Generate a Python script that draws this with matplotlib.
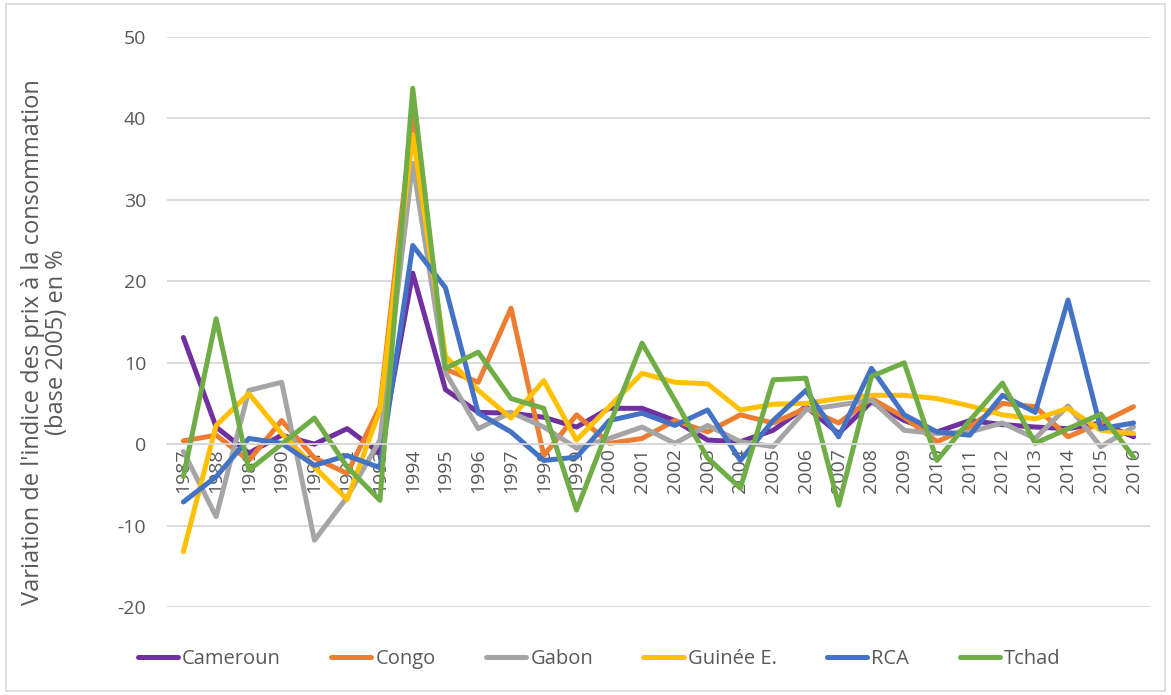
import matplotlib.pyplot as plt
from matplotlib.patches import Rectangle

plt.rcParams['font.family'] = ['Open Sans', 'DejaVu Sans']
plt.rcParams['axes.unicode_minus'] = False

years = [str(y) for y in range(1987, 2017)]

cameroun = [13.1, 2.1, -1.1, 1.1, 0.0, 1.9, -1.1, 21.0, 6.7, 3.9, 3.8, 3.3, 2.1, 4.4, 4.4,
            2.9, 0.5, 0.3, 1.7, 4.6, 1.3, 5.2, 2.9, 1.5, 2.9, 2.4, 2.1, 1.9, 2.6, 0.9]
congo = [0.4, 1.1, -2.0, 2.9, -1.7, -3.6, 4.6, 40.5, 9.2, 7.6, 16.7, -1.4, 3.6, 0.1, 0.7,
         2.9, 1.5, 3.6, 2.6, 4.4, 2.6, 5.6, 3.3, 0.3, 2.1, 5.0, 4.6, 0.9, 2.6, 4.6]
gabon = [-0.9, -8.9, 6.6, 7.6, -11.8, -6.5, 0.5, 34.5, 8.8, 1.9, 3.9, 2.1, -0.5, 0.7, 2.1,
         0.1, 2.3, 0.3, -0.3, 4.2, 4.8, 5.4, 1.7, 1.3, 1.5, 2.6, 0.7, 4.7, -0.3, 2.1]
guinee = [-13.2, 2.3, 6.2, 1.3, -2.8, -6.8, 4.2, 38.0, 10.8, 6.6, 3.2, 7.8, 0.5, 4.6, 8.7,
          7.6, 7.4, 4.2, 4.9, 5.0, 5.6, 6.0, 6.0, 5.6, 4.7, 3.6, 3.1, 4.4, 1.7, 1.3]
rca = [-7.1, -4.0, 0.7, 0.1, -2.6, -1.4, -2.9, 24.4, 19.2, 3.8, 1.5, -2.0, -1.6, 2.9, 3.8,
       2.3, 4.2, -2.0, 2.9, 6.6, 0.9, 9.3, 3.6, 1.5, 1.1, 6.0, 3.9, 17.7, 1.9, 2.6]
tchad = [-4.0, 15.4, -3.2, 0.0, 3.2, -2.8, -6.9, 43.7, 9.3, 11.3, 5.6, 4.4, -8.1, 2.3, 12.4,
         5.4, -1.7, -5.4, 7.9, 8.1, -7.5, 8.3, 10.0, -2.0, 2.9, 7.5, 0.1, 1.9, 3.7, -1.6]

series = [("Cameroun", cameroun, "#7030A0"),
          ("Congo", congo, "#ED7D31"),
          ("Gabon", gabon, "#A5A5A5"),
          ("Guinée E.", guinee, "#FFC000"),
          ("RCA", rca, "#4472C4"),
          ("Tchad", tchad, "#70AD47")]

fig = plt.figure(figsize=(11.71, 6.95), dpi=100)
ax = fig.add_axes([0.1426, 0.1266, 0.8394, 0.8202])

x = list(range(len(years)))
for name, vals, col in series:
    ax.plot(x, vals, color=col, lw=3.6, label=name, solid_capstyle='round', solid_joinstyle='round')

ax.set_xlim(-0.5, len(years) - 0.5)
ax.set_ylim(-20, 50)
ax.set_yticks(range(-20, 51, 10))
ax.grid(axis='y', color='#d9d9d9', lw=1.3, zorder=0)
ax.set_axisbelow(True)

for s in ['top', 'right', 'left']:
    ax.spines[s].set_visible(False)
ax.spines['bottom'].set_position(('data', 0))
ax.spines['bottom'].set_color('#d9d9d9')
ax.spines['bottom'].set_linewidth(1.3)

ax.set_xticks(x)
ax.set_xticklabels(years, rotation=90, va='top', ha='center')
ax.tick_params(axis='x', length=0, pad=3, labelsize=14, labelcolor='#595959')
ax.tick_params(axis='y', length=0, pad=15, labelsize=14, labelcolor='#595959')

fig.text(45 / 1171, 1 - 342 / 695,
         "Variation de l'indice des prix à la consommation\n(base 2005) en %",
         rotation=90, ha='center', va='center', multialignment='center',
         fontsize=17, color='#595959', linespacing=1.0)

fig.legend(loc='center', bbox_to_anchor=(599 / 1171, 1 - 659 / 695), ncol=6,
           frameon=False, fontsize=14.5, handlelength=2.0, handletextpad=0.2,
           columnspacing=2.5, labelcolor='#595959')

fig.patches.append(Rectangle((6 / 1171, 4 / 695), 1159 / 1171, 687 / 695,
                             transform=fig.transFigure, fill=False,
                             edgecolor='#d9d9d9', lw=1.2))

plt.savefig("out.png", dpi=100)
